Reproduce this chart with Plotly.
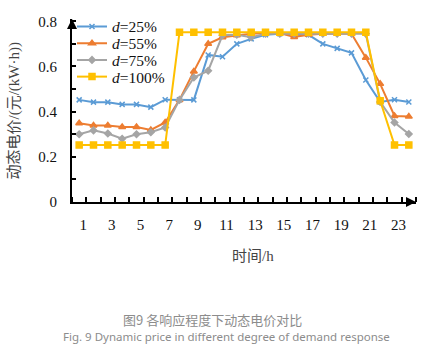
import plotly.graph_objects as go

hours = list(range(1, 25))
d25 = [0.452, 0.442, 0.442, 0.432, 0.432, 0.420, 0.453, 0.453, 0.452, 0.651, 0.643, 0.700,
       0.722, 0.740, 0.745, 0.740, 0.740, 0.700, 0.680, 0.660, 0.540, 0.443, 0.453, 0.443]
d55 = [0.349, 0.339, 0.339, 0.332, 0.332, 0.319, 0.352, 0.452, 0.578, 0.700, 0.729, 0.738,
       0.745, 0.748, 0.748, 0.730, 0.740, 0.745, 0.745, 0.745, 0.639, 0.523, 0.381, 0.378]
d75 = [0.300, 0.317, 0.303, 0.280, 0.300, 0.309, 0.330, 0.452, 0.551, 0.581, 0.738, 0.740,
       0.729, 0.745, 0.745, 0.745, 0.745, 0.745, 0.745, 0.745, 0.745, 0.443, 0.352, 0.301]
d100 = [0.252, 0.252, 0.252, 0.252, 0.252, 0.252, 0.252, 0.751, 0.751, 0.751, 0.751, 0.751,
        0.751, 0.751, 0.751, 0.751, 0.751, 0.751, 0.751, 0.751, 0.751, 0.448, 0.252, 0.252]
series_names = ["<i>d</i>=25%", "<i>d</i>=55%", "<i>d</i>=75%", "<i>d</i>=100%"]
x_tick_labels = [str(h) for h in range(1, 24, 2)]
y_tick_vals = [0, 0.2, 0.4, 0.6, 0.8]
y_tick_text = ["0", "0.2", "0.4", "0.6", "0.8"]

colors = ["#5B9BD5", "#ED7D31", "#A5A5A5", "#FFC000"]
symbols = ["x-thin", "triangle-up", "diamond", "square"]
sizes = [5, 6, 5, 6]

W, H = 426, 353
L, R, T, B = 72, 10, 16, 151
pw, ph = W - L - R, H - T - B

def px(xp):
    return (xp - L) / pw

def py(yp):
    return (H - B - yp) / ph

SERIF = "Liberation Serif"
CJK_SERIF = "Liberation Serif, Noto Sans CJK SC"

legend_ids = ["legend", "legend2", "legend3", "legend4"]
legend_rows = [24, 41, 58, 75]

fig = go.Figure()
for name, vals, c, s, sz, lg in zip(series_names, [d25, d55, d75, d100], colors, symbols, sizes, legend_ids):
    fig.add_trace(go.Scatter(
        x=hours, y=vals, name=name, mode="lines+markers", legend=lg,
        line=dict(color=c, width=2),
        marker=dict(symbol=s, size=sz, color=c, line=dict(color=c, width=1.5)),
    ))

layout_legends = {}
for lg, row in zip(legend_ids, legend_rows):
    layout_legends[lg] = dict(x=px(72), y=py(row), xanchor="left", yanchor="middle",
                              bgcolor="rgba(0,0,0,0)", font=dict(family=SERIF, size=15.5, color="#111"),
                              itemwidth=30)

fig.update_layout(
    width=W, height=H,
    margin=dict(l=L, r=R, t=T, b=B),
    paper_bgcolor="white", plot_bgcolor="white",
    font=dict(family=SERIF, size=15, color="black"),
    showlegend=True,
    **layout_legends,
    xaxis=dict(
        range=[0.5, 24.5], showgrid=False, zeroline=False,
        showline=True, linecolor="black", linewidth=2,
        tickmode="array", tickvals=list(range(1, 24, 2)), ticktext=x_tick_labels,
        ticks="", ticklabelstandoff=8, ticklabelshift=4,
        tickfont=dict(family=SERIF, size=15, color="#111"),
        minor=dict(tickmode="linear", tick0=0.5, dtick=1, ticks="inside",
                   ticklen=5, tickcolor="black", tickwidth=1.5),
    ),
    yaxis=dict(
        range=[0, 0.81], showgrid=False, zeroline=False,
        showline=True, linecolor="black", linewidth=2,
        tickmode="array", tickvals=y_tick_vals, ticktext=y_tick_text,
        ticks="inside", ticklen=4, tickcolor="black", tickwidth=1.5,
        ticklabelstandoff=10,
        tickfont=dict(family=SERIF, size=15, color="#111"),
        minor=dict(tickmode="linear", tick0=0, dtick=0.1, ticks="inside",
                   ticklen=4, tickcolor="black", tickwidth=1.5),
    ),
)

annotations = [
    # axis arrows
    dict(x=24.5, y=0, xref="x", yref="y", ax=-8, ay=0, text="", showarrow=True,
         arrowhead=2, arrowsize=1, arrowwidth=2, arrowcolor="black"),
    dict(x=0.5, y=0.81, xref="x", yref="y", ax=0, ay=8, text="", showarrow=True,
         arrowhead=2, arrowsize=1, arrowwidth=2, arrowcolor="black"),
    # axis titles
    dict(x=px(253), y=py(257), xref="paper", yref="paper", xanchor="center", yanchor="middle",
         text="时间/h", showarrow=False,
         font=dict(family=CJK_SERIF, size=15, color="#444")),
    dict(x=px(14), y=py(110), xref="paper", yref="paper", xanchor="center", yanchor="middle",
         text="动态电价/(元/(kW·h))",
         showarrow=False, textangle=-90, font=dict(family=CJK_SERIF, size=15, color="#444")),
    # captions
    dict(x=px(212), y=py(321), xref="paper", yref="paper", xanchor="center", yanchor="middle",
         text="图9 各响应程度下动态电价对比",
         showarrow=False, font=dict(family="Noto Sans CJK SC", size=13, color="#8c8c8c")),
    dict(x=px(226), y=py(339), xref="paper", yref="paper", xanchor="center", yanchor="middle",
         text="Fig. 9 Dynamic price in different degree of demand response",
         showarrow=False, font=dict(family="Noto Sans", size=11.5, color="#8c8c8c")),
]
fig.update_layout(annotations=annotations)

fig.write_html("out.html")
